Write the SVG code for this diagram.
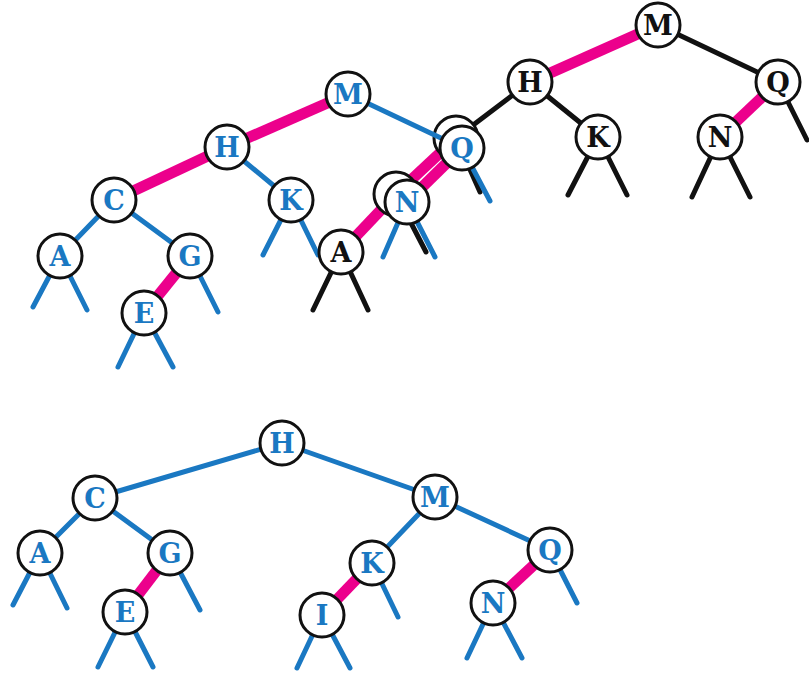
<svg xmlns="http://www.w3.org/2000/svg" width="809" height="677" viewBox="0 0 809 677">
<style>
.bl{stroke:#1a78c2;stroke-width:5;stroke-linecap:round;fill:none}
.bk{stroke:#111;stroke-width:5;stroke-linecap:round;fill:none}
.pk{stroke:#ec008c;stroke-width:11;stroke-linecap:butt;fill:none}
circle{fill:#fff;stroke:#111;stroke-width:3}
text{font-family:"DejaVu Serif","Liberation Serif",serif;font-weight:bold;font-size:27px;text-anchor:middle}
.tb{fill:#1a78c2}
.tk{fill:#111}
</style>
<rect width="809" height="677" fill="#fff"/>

<!-- black tree connectors -->
<g id="connectors-black">
<line class="pk" x1="658" y1="25" x2="530" y2="82"/>
<line class="bk" x1="658" y1="25" x2="778" y2="82"/>
<line class="pk" x1="778" y1="82" x2="720" y2="137"/>
<line class="bk" x1="530" y1="82" x2="456" y2="138"/>
<line class="bk" x1="530" y1="82" x2="598" y2="137"/>
<line class="bk" x1="778" y1="82" x2="807" y2="140"/>
<line class="bk" x1="598" y1="137" x2="568" y2="195"/>
<line class="bk" x1="598" y1="137" x2="627" y2="195"/>
<line class="bk" x1="720" y1="137" x2="692" y2="197"/>
<line class="bk" x1="720" y1="137" x2="750" y2="197"/>
<line class="pk" x1="456" y1="138" x2="396" y2="194"/>
<line class="bk" x1="456" y1="138" x2="480" y2="192"/>
<line class="pk" x1="396" y1="194" x2="341" y2="252"/>
<line class="bk" x1="396" y1="194" x2="426" y2="252"/>
<line class="bk" x1="341" y1="252" x2="313" y2="310"/>
<line class="bk" x1="341" y1="252" x2="368" y2="310"/>
</g>

<g id="k-M" transform="translate(658,25)"><circle r="22"/><text class="tk" y="10">M</text></g>
<g id="k-H" transform="translate(530,82)"><circle r="22"/><text class="tk" y="10">H</text></g>
<g id="k-Q" transform="translate(778,82)"><circle r="22"/><text class="tk" y="10">Q</text></g>
<g id="k-K" transform="translate(598,137)"><circle r="22"/><text class="tk" y="10">K</text></g>
<g id="k-N" transform="translate(720,137)"><circle r="22"/><text class="tk" y="10">N</text></g>
<g id="k-X" transform="translate(456,138)"><circle r="22"/></g>
<g id="k-Y" transform="translate(396,194)"><circle r="22"/></g>

<!-- blue top tree connectors -->
<g id="connectors-blue-top">
<line class="pk" x1="348" y1="94" x2="227" y2="147"/>
<line class="pk" x1="227" y1="147" x2="114" y2="200"/>
<line class="bl" x1="348" y1="94" x2="462" y2="148"/>
<line class="bl" x1="227" y1="147" x2="291" y2="200"/>
<line class="bl" x1="114" y1="200" x2="60" y2="256"/>
<line class="bl" x1="114" y1="200" x2="190" y2="256"/>
<line class="pk" x1="190" y1="256" x2="144" y2="313"/>
<line class="pk" x1="462" y1="148" x2="407" y2="202"/>
<line class="bl" x1="60" y1="256" x2="33" y2="307"/>
<line class="bl" x1="60" y1="256" x2="87" y2="310"/>
<line class="bl" x1="190" y1="256" x2="218" y2="312"/>
<line class="bl" x1="144" y1="313" x2="118" y2="367"/>
<line class="bl" x1="144" y1="313" x2="173" y2="367"/>
<line class="bl" x1="291" y1="200" x2="263" y2="255"/>
<line class="bl" x1="291" y1="200" x2="318" y2="255"/>
<line class="bl" x1="462" y1="148" x2="490" y2="201"/>
<line class="bl" x1="407" y1="202" x2="383" y2="257"/>
<line class="bl" x1="407" y1="202" x2="435" y2="257"/>
</g>

<g id="t-M" transform="translate(348,94)"><circle r="22"/><text class="tb" y="10">M</text></g>
<g id="t-H" transform="translate(227,147)"><circle r="22"/><text class="tb" y="10">H</text></g>
<g id="t-C" transform="translate(114,200)"><circle r="22"/><text class="tb" y="10">C</text></g>
<g id="t-K" transform="translate(291,200)"><circle r="22"/><text class="tb" y="10">K</text></g>
<g id="t-A" transform="translate(60,256)"><circle r="22"/><text class="tb" y="10">A</text></g>
<g id="t-G" transform="translate(190,256)"><circle r="22"/><text class="tb" y="10">G</text></g>
<g id="t-E" transform="translate(144,313)"><circle r="22"/><text class="tb" y="10">E</text></g>
<g id="t-Q" transform="translate(462,148)"><circle r="22"/><text class="tb" y="10">Q</text></g>
<g id="t-N" transform="translate(407,202)"><circle r="22"/><text class="tb" y="10">N</text></g>

<g id="k-A" transform="translate(341,252)"><circle r="22"/><text class="tk" y="10">A</text></g>

<!-- bottom tree connectors -->
<g id="connectors-bottom">
<line class="bl" x1="282" y1="443" x2="95" y2="498"/>
<line class="bl" x1="282" y1="443" x2="435" y2="497"/>
<line class="bl" x1="95" y1="498" x2="40" y2="553"/>
<line class="bl" x1="95" y1="498" x2="170" y2="553"/>
<line class="pk" x1="170" y1="553" x2="125" y2="612"/>
<line class="bl" x1="435" y1="497" x2="372" y2="563"/>
<line class="bl" x1="435" y1="497" x2="550" y2="550"/>
<line class="pk" x1="372" y1="563" x2="322" y2="615"/>
<line class="pk" x1="550" y1="550" x2="493" y2="603"/>
<line class="bl" x1="40" y1="553" x2="13" y2="605"/>
<line class="bl" x1="40" y1="553" x2="67" y2="608"/>
<line class="bl" x1="170" y1="553" x2="200" y2="610"/>
<line class="bl" x1="125" y1="612" x2="98" y2="667"/>
<line class="bl" x1="125" y1="612" x2="153" y2="667"/>
<line class="bl" x1="372" y1="563" x2="398" y2="617"/>
<line class="bl" x1="322" y1="615" x2="297" y2="668"/>
<line class="bl" x1="322" y1="615" x2="350" y2="668"/>
<line class="bl" x1="550" y1="550" x2="577" y2="603"/>
<line class="bl" x1="493" y1="603" x2="467" y2="658"/>
<line class="bl" x1="493" y1="603" x2="522" y2="658"/>
</g>

<g id="b-H" transform="translate(282,443)"><circle r="22"/><text class="tb" y="10">H</text></g>
<g id="b-C" transform="translate(95,498)"><circle r="22"/><text class="tb" y="10">C</text></g>
<g id="b-A" transform="translate(40,553)"><circle r="22"/><text class="tb" y="10">A</text></g>
<g id="b-G" transform="translate(170,553)"><circle r="22"/><text class="tb" y="10">G</text></g>
<g id="b-E" transform="translate(125,612)"><circle r="22"/><text class="tb" y="10">E</text></g>
<g id="b-M" transform="translate(435,497)"><circle r="22"/><text class="tb" y="10">M</text></g>
<g id="b-K" transform="translate(372,563)"><circle r="22"/><text class="tb" y="10">K</text></g>
<g id="b-I" transform="translate(322,615)"><circle r="22"/><text class="tb" y="10">I</text></g>
<g id="b-Q" transform="translate(550,550)"><circle r="22"/><text class="tb" y="10">Q</text></g>
<g id="b-N" transform="translate(493,603)"><circle r="22"/><text class="tb" y="10">N</text></g>
</svg>
